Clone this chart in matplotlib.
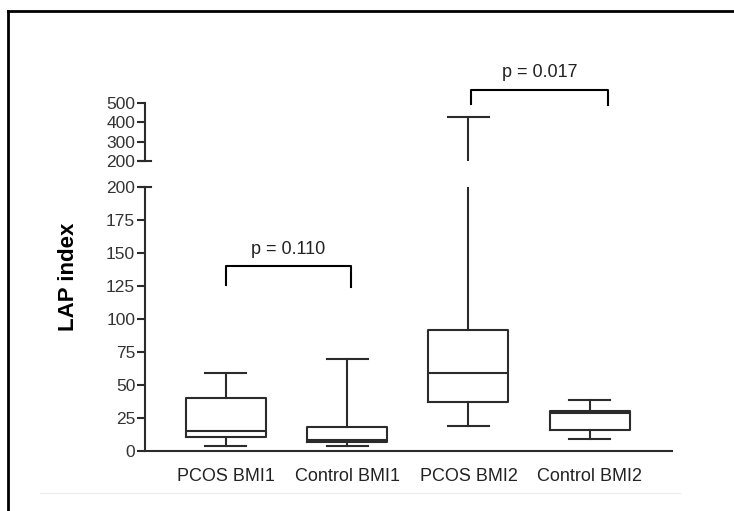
import matplotlib
matplotlib.use("Agg")
import matplotlib.pyplot as plt
from matplotlib.lines import Line2D

plt.rcParams['font.family'] = ['Liberation Sans', 'DejaVu Sans']

# Datos (LAP index)
grupos = ['PCOS BMI1', 'Control BMI1', 'PCOS BMI2', 'Control BMI2']
minimo = [4, 3.5, 19, 9]
q1 = [10.5, 7, 37, 16]
mediana = [15, 8.5, 59, 28.5]
q3 = [40, 18, 92, 30.5]
maximo = [59, 70, 430, 38.5]

# comparaciones: extremos x, altura barra, patas izq/der, texto
p_textos = ['p = 0.110', 'p = 0.017']
p_x = [(1.0, 2.03), (3.02, 4.15)]
p_y = [140, 568]
p_patas = [(126, 124), (495, 488)]
p_texto_y = [153, 656]

col = '#2b2b2b'

fig = plt.figure(figsize=(7.34, 5.11), dpi=100)
ax = fig.add_axes([0.1975, 0.1174, 0.718, 0.5166])
ax2 = fig.add_axes([0.1975, 0.6849, 0.718, 0.1135])

stats = []
for i in range(len(grupos)):
    stats.append({'label': grupos[i], 'whislo': minimo[i], 'q1': q1[i],
                  'med': mediana[i], 'q3': q3[i], 'whishi': maximo[i]})

props = dict(color=col, linewidth=1.5)
for a in (ax, ax2):
    a.bxp(stats, positions=[1, 2, 3, 4], widths=0.66, showfliers=False,
          boxprops=props, whiskerprops=props, capprops=props,
          medianprops=props, capwidths=0.34)
    a.set_xlim(0.333, 4.678)
    for s in ['top', 'right']:
        a.spines[s].set_visible(False)
    a.spines['left'].set_color(col)
    a.spines['left'].set_linewidth(1.5)
    a.tick_params(axis='y', length=6, width=1.5, color=col, labelsize=12.5,
                  labelcolor='#333333', pad=1)

ax.set_ylim(0, 200)
ax.set_yticks(range(0, 201, 25))
ax.spines['bottom'].set_color(col)
ax.spines['bottom'].set_linewidth(1.5)
ax.tick_params(axis='x', length=0, labelsize=13, labelcolor='#222222', pad=12)

ax2.set_ylim(200, 500)
ax2.set_yticks([200, 300, 400, 500])
ax2.spines['bottom'].set_visible(False)
ax2.set_xticks([])

# etiqueta del eje, centrada en los dos tramos
fig.text(68 / 734, 1 - 277 / 511, 'LAP index', rotation=90, ha='center', va='center',
         fontsize=16, fontweight='bold', color='black')

# marcas de corte del eje
ax.plot([-0.011, 0.012], [1, 1], transform=ax.transAxes, color=col, lw=1.5, clip_on=False)
ax2.plot([-0.011, 0.012], [0, 0], transform=ax2.transAxes, color=col, lw=1.5, clip_on=False)

# barras de significancia
ejes = [ax, ax2]
for k in range(2):
    a = ejes[k]
    x0, x1 = p_x[k]
    a.plot([x0, x0, x1, x1], [p_patas[k][0], p_y[k], p_y[k], p_patas[k][1]],
           color='black', lw=1.5, clip_on=False)
    a.text((x0 + x1) / 2, p_texto_y[k], p_textos[k], ha='center', va='center',
           fontsize=13, color='#222222', clip_on=False)

# marco de la imagen y linea gris inferior
fig.add_artist(Line2D([8 / 734, 1.0], [1 - 11 / 511, 1 - 11 / 511], color='black', lw=2))
fig.add_artist(Line2D([8 / 734, 8 / 734], [0, 1 - 11 / 511], color='black', lw=2))
fig.add_artist(Line2D([40 / 734, 680 / 734], [1 - 493 / 511, 1 - 493 / 511], color='#eeeeee', lw=1))

fig.savefig('out.png', dpi=100)
